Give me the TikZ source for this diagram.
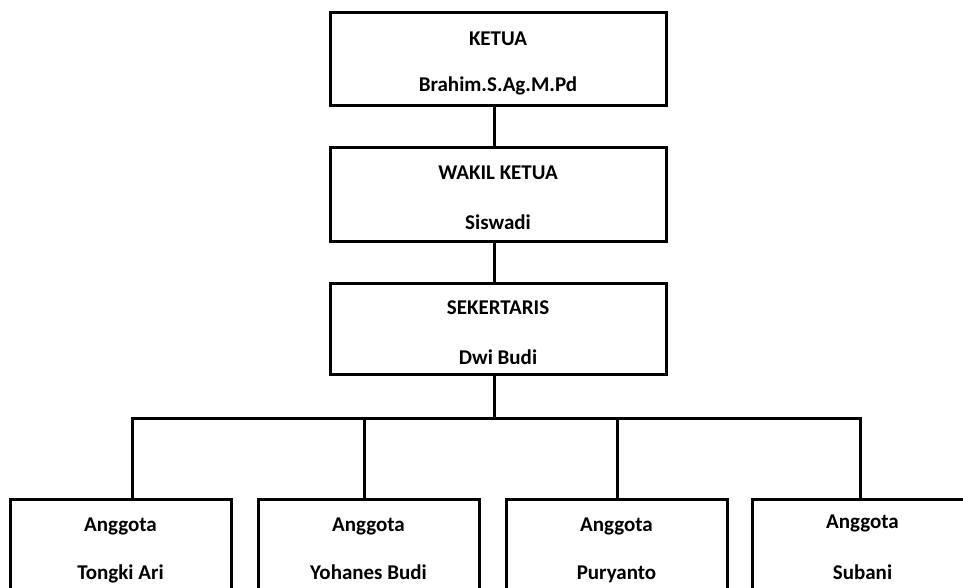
\documentclass[tikz,border=0pt]{standalone}
\usepackage{fontspec}
\setmainfont{Carlito}
\usetikzlibrary{calc}
\begin{document}
\begin{tikzpicture}[x=1pt,y=-1pt,
  box/.style={draw=black, line width=3pt, fill=white, inner sep=0pt, minimum width=336pt},
  member/.style={draw=black, line width=3pt, fill=white, inner sep=0pt, minimum width=221pt, minimum height=120pt, anchor=north},
  lbl/.style={font=\fontsize{21}{21}\selectfont\bfseries, anchor=base, inner sep=0pt},
  conn/.style={line width=3pt, line join=miter}]
\useasboundingbox (0,0) rectangle (963,588);
\clip (0,0) rectangle (963,588);
% top boxes
\node[box, minimum height=93pt] (ketua) at (498,59.5) {};
\node[box, minimum height=93pt] (wakil) at (498,194.5) {};
\node[box, minimum height=91pt] (sek) at (498,328.5) {};
\node[lbl] (ketuaA) at (498,46) {KETUA};
\node[lbl] (ketuaB) at (498,92) {Brahim.S.Ag.M.Pd};
\node[lbl] (wakilA) at (498,179) {WAKIL KETUA};
\node[lbl] (wakilB) at (498,229) {Siswadi};
\node[lbl] (sekA) at (498,314) {SEKERTARIS};
\node[lbl] (sekB) at (498,364) {Dwi Budi};
% members
\node[member] (m1) at (120.5,498) {};
\node[member] (m2) at (368.5,498) {};
\node[member] (m3) at (616.5,498) {};
\node[member] (m4) at (862.5,498) {};
\node[lbl] (m1A) at (120.5,531) {Anggota};
\node[lbl] (m1B) at (120.5,579) {Tongki Ari};
\node[lbl] (m2A) at (368.5,531) {Anggota};
\node[lbl] (m2B) at (368.5,579) {Yohanes Budi};
\node[lbl] (m3A) at (616.5,531) {Anggota};
\node[lbl] (m3B) at (616.5,579) {Puryanto};
\node[lbl] (m4A) at (862.5,528) {Anggota};
\node[lbl] (m4B) at (862.5,579) {Subani};
% connectors
\coordinate (hub) at (494,418);
\coordinate (b1) at (132,418);
\coordinate (b2) at (364.5,418);
\coordinate (b3) at (617,418);
\coordinate (b4) at (860,418);
\draw[conn] (ketua.south -| hub) -- (wakil.north -| hub);
\draw[conn] (wakil.south -| hub) -- (sek.north -| hub);
\draw[conn] (sek.south -| hub) -- (hub);
\draw[conn] (m1.north -| b1) -- (b1) -- (b4) -- (m4.north -| b4);
\draw[conn] (b2) -- (m2.north -| b2);
\draw[conn] (b3) -- (m3.north -| b3);
\end{tikzpicture}
\end{document}
